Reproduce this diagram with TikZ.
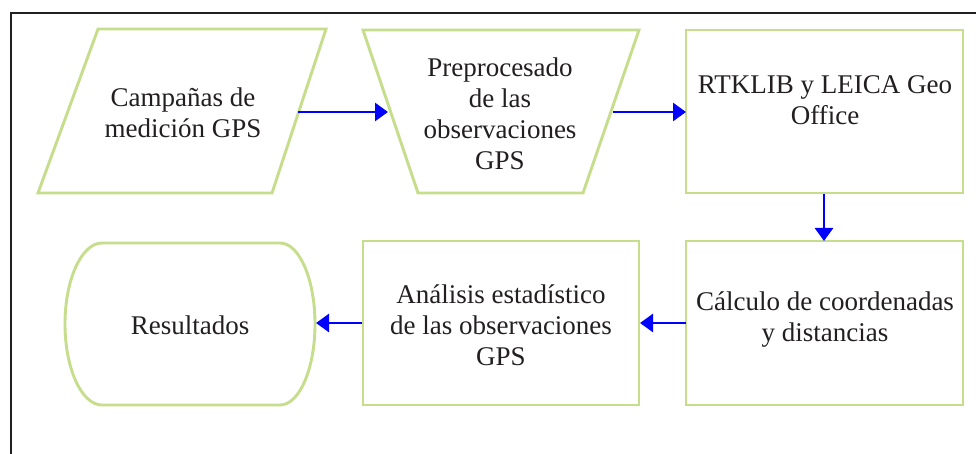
\documentclass[tikz,border=0pt]{standalone}
\usepackage{fontspec}
\setmainfont{Liberation Serif}
\usetikzlibrary{arrows.meta}
\definecolor{boxgreen}{RGB}{198,222,140}
\definecolor{txtgray}{RGB}{35,31,32}
\definecolor{arrowblue}{RGB}{0,0,255}
\tikzset{
  shapeline/.style={draw=boxgreen, line width=2.9pt, line join=miter},
  flowarrow/.style={draw=arrowblue, line width=2.8pt, -{Triangle[length=13pt,width=18pt]}},
  label/.style={text=txtgray, align=center, inner sep=0pt, font=\fontsize{27}{31}\selectfont}
}
\begin{document}
\begin{tikzpicture}[x=1pt,y=-1pt]
\clip (0,0) rectangle (976,454);
\fill[white] (0,0) rectangle (976,454);
% outer frame
\draw[txtgray, line width=2.7pt] (11,13) rectangle (1010,490);
% shapes
\draw[shapeline] (98,29) -- (326,29) -- (272,193) -- (38,193) -- cycle;
\draw[shapeline] (363,30) -- (639,30) -- (583,193) -- (418,193) -- cycle;
\draw[shapeline] (686,30) rectangle (963,193);
\draw[shapeline] (686,241) rectangle (963,405);
\draw[shapeline] (363,241) rectangle (639,405);
\draw[shapeline] (102,243) -- (280,243)
  .. controls (299.3,243) and (315,279.3) .. (315,324)
  .. controls (315,368.7) and (299.3,405) .. (280,405)
  -- (102,405)
  .. controls (81.6,405) and (65,368.7) .. (65,324)
  .. controls (65,279.3) and (81.6,243) .. (102,243) -- cycle;
% texts
\node[label] (campanas) at (183,113) {Campañas de\\medición GPS};
\node[label] (preproc) at (500,114) {Preprocesado\\de las\\observaciones\\GPS};
\node[label] (rtklib) at (825,100) {RTKLIB y LEICA Geo\\Office};
\node[label] (calculo) at (825,320) {Cálculo de coordenadas\\y distancias};
\node[label] (analisis) at (501,325) {Análisis estadístico\\de las observaciones\\GPS};
\node[label] (resultados) at (190,325) {Resultados};
% connector anchors
\coordinate (campanasE) at (298,112);
\coordinate (preprocW) at (388,112);
\coordinate (preprocE) at (613,112);
\coordinate (rtklibW) at (686,112);
\coordinate (rtklibS) at (824,194);
\coordinate (calculoN) at (824,241);
\coordinate (calculoW) at (686,323);
\coordinate (analisisE) at (640,323);
\coordinate (analisisW) at (362,323);
\coordinate (resultadosE) at (316,323);
% connectors
\draw[flowarrow] (campanasE) -- (preprocW);
\draw[flowarrow] (preprocE) -- (rtklibW);
\draw[flowarrow] (rtklibS) -- (calculoN);
\draw[flowarrow] (calculoW) -- (analisisE);
\draw[flowarrow] (analisisW) -- (resultadosE);
\end{tikzpicture}
\end{document}
